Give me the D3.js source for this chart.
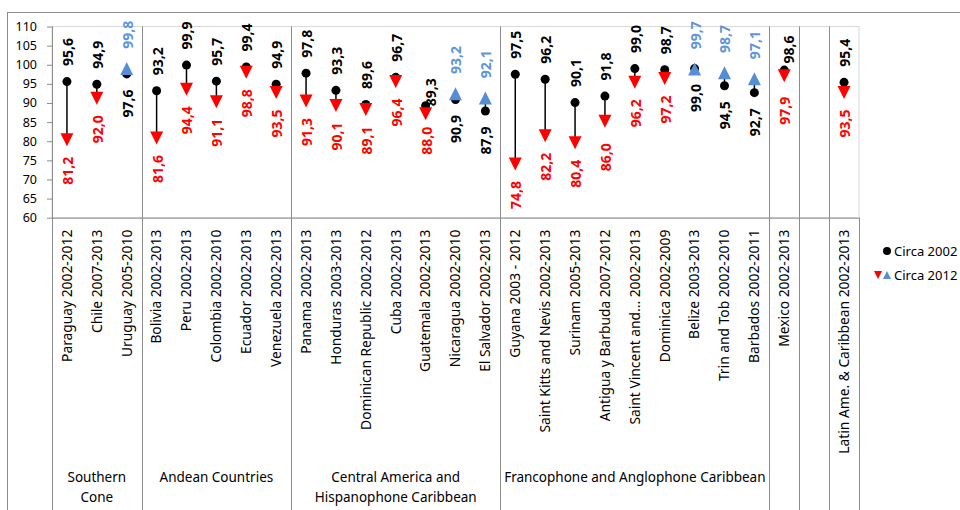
<!DOCTYPE html>
<html>
<head>
<meta charset="utf-8">
<script src="https://cdn.jsdelivr.net/npm/d3@7"></script>
<style>
  html, body { margin: 0; padding: 0; background: #fff; }
  svg { display: block; font-family: "Noto Sans", "DejaVu Sans", sans-serif; }
</style>
</head>
<body>
<svg id="chart" width="960" height="510"></svg>
<script>
// ---- data -------------------------------------------------------------
const categories = [
  "Paraguay 2002-2012", "Chile 2007-2013", "Uruguay 2005-2010",
  "Bolivia 2002-2013", "Peru 2002-2013", "Colombia 2002-2010", "Ecuador 2002-2013", "Venezuela 2002-2013",
  "Panama 2002-2013", "Honduras 2003-2013", "Dominican Republic 2002-2012", "Cuba 2002-2013",
  "Guatemala 2002-2013", "Nicaragua 2002-2010", "El Salvador 2002-2013",
  "Guyana 2003 - 2012", "Saint Kitts and Nevis 2002-2013", "Surinam 2005-2013", "Antigua y Barbuda 2007-2012",
  "Saint Vincent and... 2002-2013", "Dominica 2002-2009", "Belize 2003-2013", "Trin and Tob 2002-2010",
  "Barbados 2002-2011",
  "Mexico 2002-2013",
  "",
  "Latin Ame. & Caribbean 2002-2013"
];

const circa2002 = [
  95.6, 94.9, 97.6,
  93.2, 99.9, 95.7, 99.4, 94.9,
  97.8, 93.3, 89.6, 96.7, 89.3, 90.9, 87.9,
  97.5, 96.2, 90.1, 91.8, 99.0, 98.7, 99.0, 94.5, 92.7,
  98.6,
  null,
  95.4
];

const circa2012 = [
  81.2, 92.0, 99.8,
  81.6, 94.4, 91.1, 98.8, 93.5,
  91.3, 90.1, 89.1, 96.4, 88.0, 93.2, 92.1,
  74.8, 82.2, 80.4, 86.0, 96.2, 97.2, 99.7, 98.7, 97.1,
  97.9,
  null,
  93.5
];

const groupNames = [
  ["Southern", "Cone"],
  ["Andean Countries"],
  ["Central America and", "Hispanophone Caribbean"],
  ["Francophone and Anglophone Caribbean"],
  [], [], []
];
const groupSizes = [3, 5, 7, 9, 1, 1, 1];

const yTicks = [60, 65, 70, 75, 80, 85, 90, 95, 100, 105, 110];
const legendLabels = ["Circa 2002", "Circa 2012"];

// hand-placed value labels that would otherwise collide with markers
const labelNudge = {
  "Guatemala 2002-2013": { dx1: 4, dy1: 16, dy2: -4 },
  "Mexico 2002-2013": { dx1: 4, dy1: 9, dy2: 4 },
  "Antigua y Barbuda 2007-2012": { dy2: 5 }
};

// ---- layout -----------------------------------------------------------
const W = 960, H = 510;
const plot = { left: 52, right: 859, top: 26.5, bottom: 217.7 };
const C = {
  frame: "#8c8c8c", plotFrame: "#d9d9d9", axis: "#8c8c8c",
  dot: "#000000", down: "#ff0000", up: "#558ed5", upText: "#5f95d8"
};
const FONT = '"Noto Sans", "DejaVu Sans", sans-serif';

const svg = d3.select("#chart");

const x = d3.scaleBand()
  .domain(d3.range(categories.length))
  .range([plot.left, plot.right]);
const y = d3.scaleLinear().domain([60, 110]).range([plot.bottom, plot.top]);
const cx = i => x(i) + x.bandwidth() / 2;
const crisp = v => Math.round(v) + 0.5;

const fmt = d3.formatLocale({ decimal: ",", thousands: ".", grouping: [3], currency: ["", ""] }).format(".1f");

// chart frame
svg.append("rect")
  .attr("x", 7.5).attr("y", 12.5)
  .attr("width", W).attr("height", H)
  .attr("fill", "none").attr("stroke", C.frame);

// plot area frame
svg.append("rect")
  .attr("x", plot.left).attr("y", plot.top)
  .attr("width", plot.right - plot.left).attr("height", plot.bottom - plot.top)
  .attr("fill", "none").attr("stroke", C.plotFrame);

// ---- y axis -----------------------------------------------------------
const yAxis = svg.append("g")
  .attr("transform", `translate(${plot.left},0)`)
  .call(d3.axisLeft(y).tickValues(yTicks).tickSize(5).tickPadding(10).tickSizeOuter(0));
yAxis.attr("font-family", FONT).attr("font-size", 12.5);
yAxis.select(".domain").remove();
yAxis.selectAll(".tick line").attr("stroke", C.axis);
yAxis.selectAll(".tick text").attr("fill", "#000");

// ---- category axis ----------------------------------------------------
const xAxis = svg.append("g")
  .attr("transform", `translate(0,${plot.bottom})`)
  .call(d3.axisBottom(x).tickSize(0).tickSizeOuter(0).tickFormat(i => categories[i]));
xAxis.attr("font-family", FONT).attr("font-size", 13.8);
xAxis.select(".domain").attr("stroke", C.axis);
xAxis.selectAll(".tick text")
  .attr("transform", "rotate(-90)")
  .attr("x", -12).attr("y", 0).attr("dy", "0.35em")
  .attr("text-anchor", "end")
  .attr("fill", "#000");

// ---- group separators and group labels --------------------------------
const bounds = [0];
groupSizes.forEach(s => bounds.push(bounds[bounds.length - 1] + s));
const bx = b => (b < categories.length ? x(b) : plot.right);

bounds.forEach((b, k) => {
  const last = k === bounds.length - 1;
  svg.append("line")
    .attr("x1", crisp(bx(b))).attr("x2", crisp(bx(b)))
    .attr("y1", last ? plot.bottom : plot.top).attr("y2", H)
    .attr("stroke", C.axis);
});

groupNames.forEach((lines, k) => {
  if (!lines.length) return;
  const mid = (bx(bounds[k]) + bx(bounds[k + 1])) / 2;
  const t = svg.append("text")
    .attr("font-family", FONT).attr("font-size", 13.5)
    .attr("text-anchor", "middle").attr("fill", "#000");
  lines.forEach((ln, j) => {
    t.append("tspan").attr("x", mid).attr("y", 482 + j * 20).text(ln);
  });
});

// ---- marks ------------------------------------------------------------
const rows = categories.map((c, i) => ({ i, c, a: circa2002[i], b: circa2012[i] }))
  .filter(d => d.a != null && d.b != null);

const triDown = (s, off) => `M${-s},${-s + off}L${s},${-s + off}L0,${s + off}Z`;
const triUp = (s, off) => `M0,${-s + off}L${s},${s + off}L${-s},${s + off}Z`;

svg.append("g").selectAll("line")
  .data(rows).join("line")
  .attr("x1", d => cx(d.i)).attr("x2", d => cx(d.i))
  .attr("y1", d => y(d.a)).attr("y2", d => y(d.b))
  .attr("stroke", "#000").attr("stroke-width", 1.5);

svg.append("g").selectAll("circle")
  .data(rows).join("circle")
  .attr("cx", d => cx(d.i)).attr("cy", d => y(d.a))
  .attr("r", 4.5).attr("fill", C.dot);

svg.append("g").selectAll("path")
  .data(rows).join("path")
  .attr("transform", d => `translate(${cx(d.i)},${y(d.b)})`)
  .attr("d", d => d.b > d.a ? triUp(6.5, 3) : triDown(6.5, 3))
  .attr("fill", d => d.b > d.a ? C.up : C.down);

// ---- value labels -----------------------------------------------------
const labels = svg.append("g")
  .attr("font-family", FONT).attr("font-size", 14).attr("font-weight", "bold");

rows.forEach(d => {
  const up = d.b > d.a;
  const n = labelNudge[d.c] || {};
  const x0 = cx(d.i) + 1;
  // circa 2002 value: above the dot when the value fell, below when it rose
  const y1 = up ? y(d.a) + 15.5 : y(d.a) - 15.5;
  labels.append("text")
    .attr("transform", `translate(${x0 + (n.dx1 || 0)},${y1 + (n.dy1 || 0)}) rotate(-90)`)
    .attr("dy", "0.35em")
    .attr("text-anchor", up ? "end" : "start")
    .attr("fill", "#000")
    .text(fmt(d.a));
  // circa 2012 value
  const y2 = up ? y(d.b) - 16.7 : y(d.b) + 20;
  labels.append("text")
    .attr("transform", `translate(${x0},${y2 + (n.dy2 || 0)}) rotate(-90)`)
    .attr("dy", "0.35em")
    .attr("text-anchor", up ? "start" : "end")
    .attr("fill", up ? C.upText : C.down)
    .text(fmt(d.b));
});

// ---- legend -----------------------------------------------------------
const lg = svg.append("g").attr("font-family", FONT).attr("font-size", 13);
lg.append("circle").attr("cx", 887).attr("cy", 251).attr("r", 4).attr("fill", C.dot);
lg.append("text").attr("x", 894).attr("y", 251).attr("dy", "0.35em").text(legendLabels[0]);
lg.append("path").attr("transform", "translate(878,275)").attr("d", triDown(4, 0)).attr("fill", C.down);
lg.append("path").attr("transform", "translate(887,275)").attr("d", triUp(4, 0)).attr("fill", C.up);
lg.append("text").attr("x", 894).attr("y", 275).attr("dy", "0.35em").text(legendLabels[1]);
</script>
</body>
</html>
